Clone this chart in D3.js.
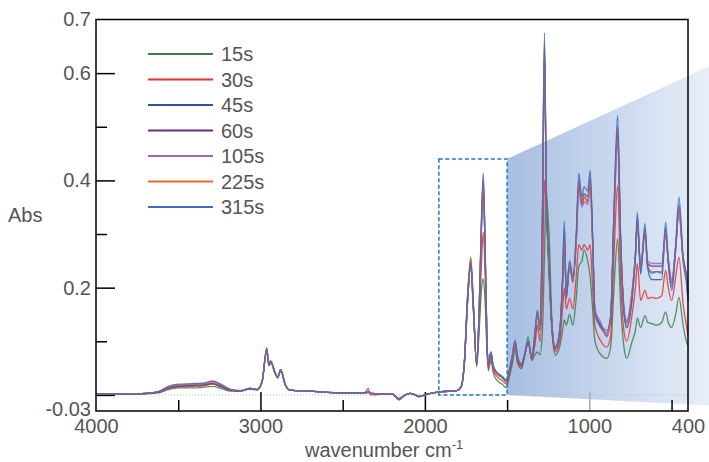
<!DOCTYPE html>
<html>
<head>
<meta charset="utf-8">
<script src="https://cdn.jsdelivr.net/npm/d3@7"></script>
<style>
    body { margin: 0; background: #fff; }
    text { font-family: "Liberation Sans", Arial, sans-serif; fill: #555; }
</style>
</head>
<body>
<div id="chart"></div>
<script>

// IR spectra, one array per reaction time

var wavenumbers = [4000, 3800, 3700, 3620, 3560, 3500, 3420, 3350, 3290, 3240,
    3180, 3120, 3063, 3020, 2990, 2962, 2948, 2938, 2910, 2895,
    2877, 2850, 2820, 2700, 2500, 2365, 2345, 2330, 2200, 2157,
    2120, 2090, 2060, 2036, 2000, 1950, 1900, 1806, 1780, 1760,
    1740, 1721, 1705, 1685, 1670, 1655, 1645, 1635, 1622, 1614,
    1598, 1585, 1561, 1530, 1503, 1492, 1470, 1452, 1435, 1413,
    1390, 1372, 1350, 1330, 1316, 1300, 1285, 1273, 1262, 1245,
    1225, 1208, 1180, 1163, 1152, 1140, 1120, 1100, 1080, 1064,
    1045, 1032, 1010, 995, 980, 966, 930, 894, 870, 850,
    828, 810, 790, 773, 740, 720, 708, 688, 662, 645,
    620, 590, 560, 536, 520, 499, 475, 455, 430, 410, 400];

var abs_15s = [.001, .001, .002, .004, .010, .013, .013, .014, .016, .012,
    .007, .007, .011, .009, .024, .086, .056, .063, .040, .032,
    .046, .020, .009, .007, .004, .004, .005, .003, .002, -.007,
    .000, .003, .000, -.003, .000, .004, .006, .008, .014, .062,
    .190, .257, .170, .052, .120, .200, .217, .180, .080, .045,
    .065, .042, .027, .020, .013, .026, .055, .083, .058, .049,
    .080, .108, .064, .075, .080, .075, .120, .260, .370, .300,
    .120, .074, .090, .120, .140, .130, .150, .130, .180, .240,
    .250, .270, .250, .220, .160, .100, .075, .068, .090, .200,
    .291, .170, .090, .068, .100, .120, .143, .126, .148, .135,
    .133, .130, .135, .155, .135, .126, .150, .182, .130, .100, .092];

var abs_30s = [.002, .002, .002, .005, .012, .015, .016, .017, .020, .015,
    .008, .007, .012, .010, .025, .088, .057, .064, .041, .033,
    .047, .020, .009, .007, .004, .004, .012, .000, .002, -.006,
    .000, .003, .000, -.003, .000, .004, .006, .008, .015, .060,
    .185, .251, .168, .055, .130, .250, .304, .240, .085, .050,
    .072, .048, .034, .027, .020, .032, .062, .090, .062, .052,
    .078, .100, .066, .095, .130, .100, .200, .400, .350, .220,
    .110, .080, .100, .160, .200, .160, .180, .160, .220, .280,
    .270, .280, .270, .280, .200, .130, .100, .089, .110, .260,
    .390, .220, .120, .100, .150, .200, .245, .176, .195, .180,
    .182, .180, .185, .232, .200, .176, .220, .257, .170, .130, .110];

var abs_45s = [.002, .002, .003, .005, .013, .016, .017, .018, .021, .016,
    .009, .008, .012, .010, .025, .082, .054, .061, .039, .032,
    .046, .019, .009, .007, .004, .004, .006, .003, .002, -.009,
    .000, .003, .000, -.003, .000, .004, .006, .008, .015, .058,
    .175, .242, .160, .057, .160, .330, .400, .290, .095, .056,
    .078, .053, .039, .032, .024, .037, .066, .097, .066, .055,
    .078, .097, .068, .110, .150, .120, .330, .650, .390, .240,
    .115, .085, .115, .210, .310, .180, .240, .210, .290, .400,
    .360, .375, .370, .405, .290, .150, .125, .115, .145, .340,
    .500, .290, .155, .125, .180, .255, .330, .225, .310, .235,
    .215, .215, .215, .310, .245, .195, .270, .355, .250, .210, .175];

var abs_60s = [.002, .002, .003, .006, .014, .017, .018, .019, .022, .017,
    .009, .008, .012, .010, .025, .083, .055, .062, .040, .033,
    .047, .020, .009, .007, .004, .004, .005, .003, .002, -.008,
    .000, .003, .000, -.003, .000, .004, .006, .008, .015, .059,
    .178, .245, .162, .058, .155, .325, .395, .290, .095, .057,
    .079, .054, .040, .033, .025, .038, .068, .099, .068, .057,
    .080, .099, .070, .115, .152, .125, .320, .640, .380, .240,
    .118, .088, .118, .210, .290, .190, .245, .215, .285, .390,
    .355, .370, .360, .395, .290, .155, .130, .110, .145, .330,
    .490, .290, .160, .135, .190, .260, .320, .240, .300, .245,
    .240, .240, .240, .300, .250, .210, .275, .345, .255, .220, .190];

var abs_105s = [.002, .002, .003, .006, .015, .018, .019, .020, .023, .018,
    .010, .008, .012, .010, .025, .083, .055, .062, .040, .033,
    .047, .020, .009, .007, .004, .004, .005, .003, .002, -.008,
    .000, .003, .000, -.003, .000, .004, .006, .008, .015, .059,
    .177, .243, .160, .058, .150, .320, .390, .280, .095, .057,
    .080, .054, .041, .034, .026, .039, .069, .100, .069, .058,
    .080, .100, .071, .117, .150, .125, .310, .630, .380, .240,
    .120, .090, .120, .200, .280, .190, .240, .220, .280, .380,
    .350, .360, .355, .385, .280, .160, .135, .108, .145, .320,
    .470, .280, .165, .139, .195, .260, .310, .245, .295, .250,
    .245, .245, .245, .295, .255, .215, .275, .335, .255, .225, .200];

var abs_225s = [.002, .002, .003, .006, .015, .019, .020, .021, .025, .019,
    .010, .008, .012, .010, .025, .084, .055, .062, .040, .033,
    .047, .020, .009, .007, .004, .004, .006, .003, .002, -.008,
    .000, .003, .000, -.003, .000, .004, .006, .008, .015, .060,
    .180, .247, .163, .058, .155, .330, .405, .290, .095, .057,
    .079, .054, .040, .033, .025, .038, .068, .099, .068, .057,
    .080, .099, .070, .115, .155, .125, .340, .660, .390, .245,
    .118, .088, .118, .210, .300, .185, .245, .215, .290, .395,
    .360, .370, .360, .400, .290, .155, .130, .115, .145, .335,
    .495, .290, .160, .130, .185, .260, .325, .235, .305, .240,
    .230, .230, .230, .305, .250, .205, .275, .350, .255, .220, .185];

var abs_315s = [.002, .002, .003, .006, .016, .020, .021, .022, .026, .020,
    .010, .008, .012, .010, .025, .084, .055, .062, .040, .033,
    .047, .020, .009, .007, .004, .004, .005, .003, .002, -.009,
    .000, .003, .000, -.003, .000, .004, .006, .008, .015, .059,
    .178, .243, .160, .058, .160, .340, .414, .300, .100, .058,
    .080, .055, .042, .035, .027, .040, .070, .102, .070, .058,
    .080, .100, .071, .120, .158, .130, .350, .675, .400, .250,
    .120, .089, .120, .220, .324, .182, .251, .220, .300, .413,
    .370, .388, .380, .419, .300, .155, .130, .120, .150, .350,
    .521, .300, .160, .126, .180, .260, .341, .227, .320, .240,
    .227, .230, .227, .322, .250, .201, .280, .369, .260, .220, .180];

var series_names = ['15s', '30s', '45s', '60s', '105s', '225s', '315s'];
var series_values = [abs_15s, abs_30s, abs_45s, abs_60s, abs_105s, abs_225s, abs_315s];
var series_colors = ['#3b7f45', '#e8312f', '#2b56a3', '#6b2d7b', '#a066b3', '#ea6a2e', '#3f6cc0'];

var y_labels = [0.7, 0.6, 0.4, 0.2, -0.03];
var y_major = [0.6, 0.4, 0.2, 0];
var y_minor = [0.5, 0.3, 0.1];
var x_labels = [4000, 3000, 2000, 1000, 400];
var x_major = [3000, 2000, 1000];
var x_minor = [3500, 2500, 1500, 500];

// dashed box (wavenumber, absorbance) and the fan it opens to the right
var zoom_box = {w1: 1915, w2: 1500, a1: 0, a2: 0.44};
var zoom_fan = {w: 272, top: 0.613, bottom: -0.0196};

var margin = {
    top: 19.5,
    bottom: 51,
    left: 96,
    right: 21
}

var width = 709 - margin.left - margin.right;
var height = 462 - margin.top - margin.bottom;

var svg = d3.select('#chart')
    .append('svg')
    .attr('width', 709)
    .attr('height', 462);

var g = svg.append('g')
    .attr('transform', 'translate(' + margin.left + ',' + margin.top + ')');

var x_scale = d3.scaleLinear()
    .domain([4000, 400])
    .range([0, width]);

var y_scale = d3.scaleLinear()
    .domain([-0.03, 0.7])
    .range([height, 0]);

// gradient fan behind the spectra
var grad = svg.append('defs')
    .append('linearGradient')
    .attr('id', 'fan')
    .attr('x1', 0).attr('x2', 1).attr('y1', 0).attr('y2', 0);
grad.append('stop').attr('offset', 0).attr('stop-color', '#a7bee2');
grad.append('stop').attr('offset', 0.5).attr('stop-color', '#c8d7ed');
grad.append('stop').attr('offset', 1).attr('stop-color', '#e7eef8');

var fan_pts = [
    [x_scale(zoom_box.w2), y_scale(zoom_box.a2)],
    [x_scale(zoom_fan.w), y_scale(zoom_fan.top)],
    [x_scale(zoom_fan.w), y_scale(zoom_fan.bottom)],
    [x_scale(zoom_box.w2), y_scale(zoom_box.a1)]
];

g.append('polygon')
    .attr('points', fan_pts.map(function(p) { return p.join(','); }).join(' '))
    .attr('fill', 'url(#fan)');

// zero line
g.append('line')
    .attr('x1', 0)
    .attr('x2', width)
    .attr('y1', y_scale(0))
    .attr('y2', y_scale(0))
    .attr('stroke', '#bbb')
    .attr('stroke-width', 1)
    .attr('stroke-dasharray', '1,2');

// Axes

function styleAxis(sel) {
    sel.select('.domain').remove();
    sel.selectAll('.tick line').attr('stroke', '#000').attr('stroke-width', 1.5);
    sel.selectAll('.tick text')
        .style('font-size', '20px')
        .style('fill', '#555');
}

g.append('g')
    .call(d3.axisLeft(y_scale).tickValues(y_major).tickSize(-19).tickFormat(''))
    .call(styleAxis);

g.append('g')
    .call(d3.axisLeft(y_scale).tickValues(y_minor).tickSize(-11).tickFormat(''))
    .call(styleAxis);

g.append('g')
    .call(d3.axisLeft(y_scale).tickValues(y_labels).tickSize(0).tickPadding(5)
        .tickFormat(function(d) { return d; }))
    .call(styleAxis)
    .selectAll('.tick text')
    .attr('dy', function(d) { return d < 0 ? '0.22em' : '0.32em'; });

g.append('g')
    .attr('transform', 'translate(0,' + height + ')')
    .call(d3.axisBottom(x_scale).tickValues(x_major).tickSize(-19).tickFormat(''))
    .call(styleAxis)
    .selectAll('.tick line')
    .attr('stroke', function(d) { return d == 1000 ? '#aaa' : '#000'; });

g.append('g')
    .attr('transform', 'translate(0,' + height + ')')
    .call(d3.axisBottom(x_scale).tickValues(x_minor).tickSize(-11).tickFormat(''))
    .call(styleAxis);

g.append('g')
    .attr('transform', 'translate(0,' + height + ')')
    .call(d3.axisBottom(x_scale).tickValues(x_labels).tickSize(0).tickPadding(8)
        .tickFormat(function(d) { return d; }))
    .call(styleAxis);

// Spectra

var line = d3.line()
    .x(function(d) { return x_scale(d[0]); })
    .y(function(d) { return y_scale(d[1]); })
    .curve(d3.curveMonotoneX);

series_values.forEach(function(vals, i) {
    var pts = wavenumbers.map(function(w, k) { return [w, vals[k]]; });
    g.append('path')
        .datum(pts)
        .attr('d', line)
        .attr('fill', 'none')
        .attr('stroke', series_colors[i])
        .attr('stroke-width', 1.3)
        .attr('stroke-opacity', 0.85)
        .attr('stroke-linejoin', 'round');
});

// dashed box
g.append('rect')
    .attr('x', x_scale(zoom_box.w1))
    .attr('y', y_scale(zoom_box.a2))
    .attr('width', x_scale(zoom_box.w2) - x_scale(zoom_box.w1))
    .attr('height', y_scale(zoom_box.a1) - y_scale(zoom_box.a2))
    .attr('fill', 'none')
    .attr('stroke', '#1b7bc8')
    .attr('stroke-width', 1.5)
    .attr('stroke-dasharray', '4,2.5');

// frame
g.append('rect')
    .attr('x', 0)
    .attr('y', 0)
    .attr('width', width)
    .attr('height', height)
    .attr('fill', 'none')
    .attr('stroke', '#000')
    .attr('stroke-width', 1.5);

// Legend

var legend = g.selectAll('.legend')
    .data(series_names)
    .enter()
    .append('g')
    .attr('class', 'legend')
    .attr('transform', function(d, i) {
        return 'translate(52,' + (34.5 + i * 25.5) + ')';
    });

legend.append('line')
    .attr('x1', 0)
    .attr('x2', 65)
    .attr('stroke', function(d, i) { return series_colors[i]; })
    .attr('stroke-width', 2);

legend.append('text')
    .attr('x', 73)
    .attr('dy', '0.36em')
    .style('font-size', '20px')
    .text(function(d) { return d; });

// Axis titles

svg.append('text')
    .attr('x', 8)
    .attr('y', 222)
    .style('font-size', '20px')
    .text('Abs');

var xt = svg.append('text')
    .attr('x', 305)
    .attr('y', 457)
    .style('font-size', '20px')
    .text('wavenumber cm');

xt.append('tspan')
    .attr('dy', -8)
    .style('font-size', '13px')
    .text('-1');

</script>
</body>
</html>
